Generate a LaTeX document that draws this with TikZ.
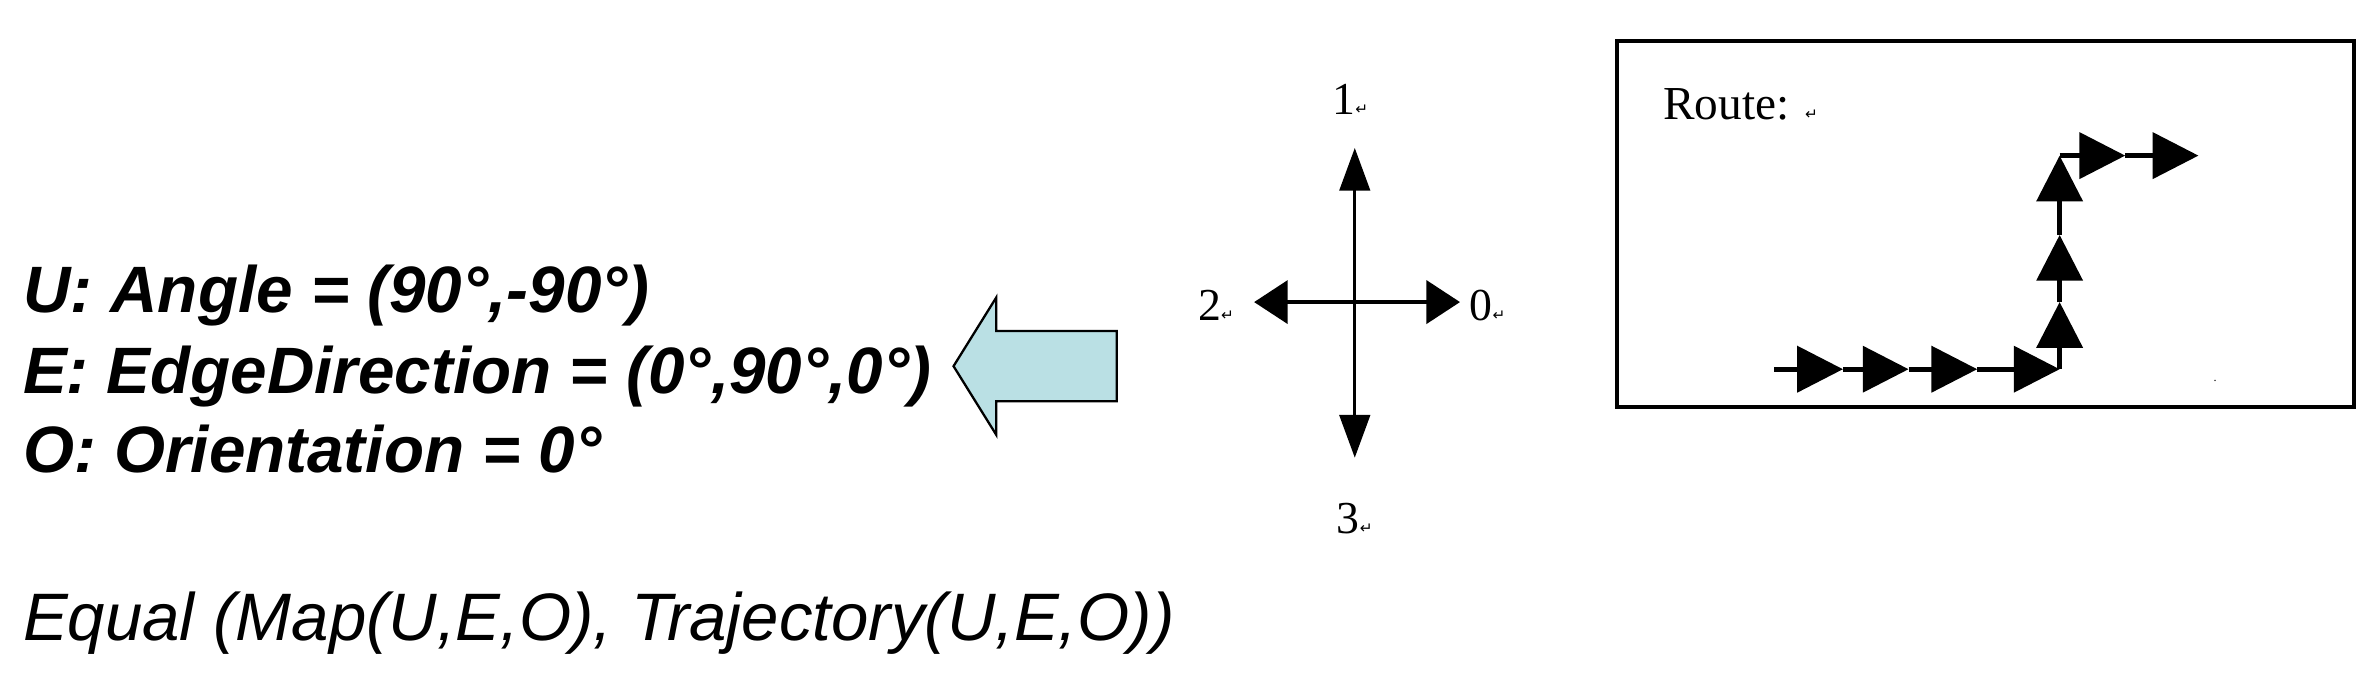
\documentclass[tikz,border=0pt]{standalone}
\usepackage{fontspec}
\setmainfont{Liberation Serif}
\setsansfont{Liberation Sans}
\newfontfamily\dv{DejaVu Sans}
\usetikzlibrary{arrows.meta}
\tikzset{
  lbl/.style={font=\fontsize{43}{50}\selectfont\sffamily\bfseries\itshape, anchor=base west, inner sep=0},
  eq/.style={font=\fontsize{44}{50}\selectfont\sffamily\itshape, anchor=base west, inner sep=0},
  num/.style={font=\fontsize{30}{34}\selectfont, inner sep=0},
  rt/.style={line width=3pt, -{Triangle[length=30pt,width=30pt]}},
  cmp/.style={line width=2pt, -{Triangle[length=28pt,width=20pt]}},
}
\newcommand{\ret}{{\dv\fontsize{10}{10}\selectfont ↵}}
\begin{document}
\begin{tikzpicture}[x=1pt,y=-1pt]
\useasboundingbox (0,0) rectangle (1560,442);
\node[lbl] (u) at (15,205) {U: Angle = (90°,-90°)};
\node[lbl] (e) at (15,258) {E: EdgeDirection = (0°,90°,0°)};
\node[lbl] (o) at (15,310) {O: Orientation = 0°};
\node[eq] (q) at (15,420) {Equal (Map(U,E,O), Trajectory(U,E,O))};
% block arrow
\draw[fill={rgb,255:red,186;green,224;blue,228}, line width=1.5pt]
  (625,240) -- (653,195) -- (653,217) -- (732,217) -- (732,263) -- (653,263) -- (653,285) -- cycle;
% compass
\coordinate (c) at (888,198);
\coordinate (cu) at (888,97);
\coordinate (cd) at (888,300);
\coordinate (cl) at (822,198);
\coordinate (cr) at (957,198);
\draw[cmp] (c) -- (cu);
\draw[cmp] (c) -- (cd);
\draw[line width=3pt, -{Triangle[length=22pt,width=28pt]}] (c) -- (cl);
\draw[line width=3pt, -{Triangle[length=22pt,width=28pt]}] (c) -- (cr);
\node[num] (n1) at (885,65) {1\ret};
\node[num] (n2) at (797,200) {2\ret};
\node[num] (n0) at (975,200) {0\ret};
\node[num] (n3) at (888,340) {3\ret};
% route box
\draw[line width=2.5pt] (1060,27) rectangle (1543,267);
\node[font=\fontsize{31}{34}\selectfont, anchor=base west, inner sep=0] (route) at (1090,78) {Route: \ret};
\node[inner sep=0, font=\fontsize{8}{8}\selectfont] (dot) at (1452,250) {.};
\coordinate (p0) at (1163,242);
\coordinate (p1) at (1208,242);
\coordinate (p2) at (1251,242);
\coordinate (p3) at (1296,242);
\coordinate (p4) at (1350,242);
\coordinate (v1) at (1350,198);
\coordinate (v2) at (1350,154);
\coordinate (v3) at (1350,102);
\coordinate (h1) at (1393,102);
\coordinate (h2) at (1441,102);
\draw[rt] (p0) -- (p1);
\draw[rt] (p1) -- (p2);
\draw[rt] (p2) -- (p3);
\draw[rt] (p3) -- (p4);
\draw[rt] (p4) -- (v1);
\draw[rt] (v1) -- (v2);
\draw[rt] (v2) -- (v3);
\draw[rt] (v3) -- (h1);
\draw[rt] (h1) -- (h2);
\end{tikzpicture}
\end{document}
